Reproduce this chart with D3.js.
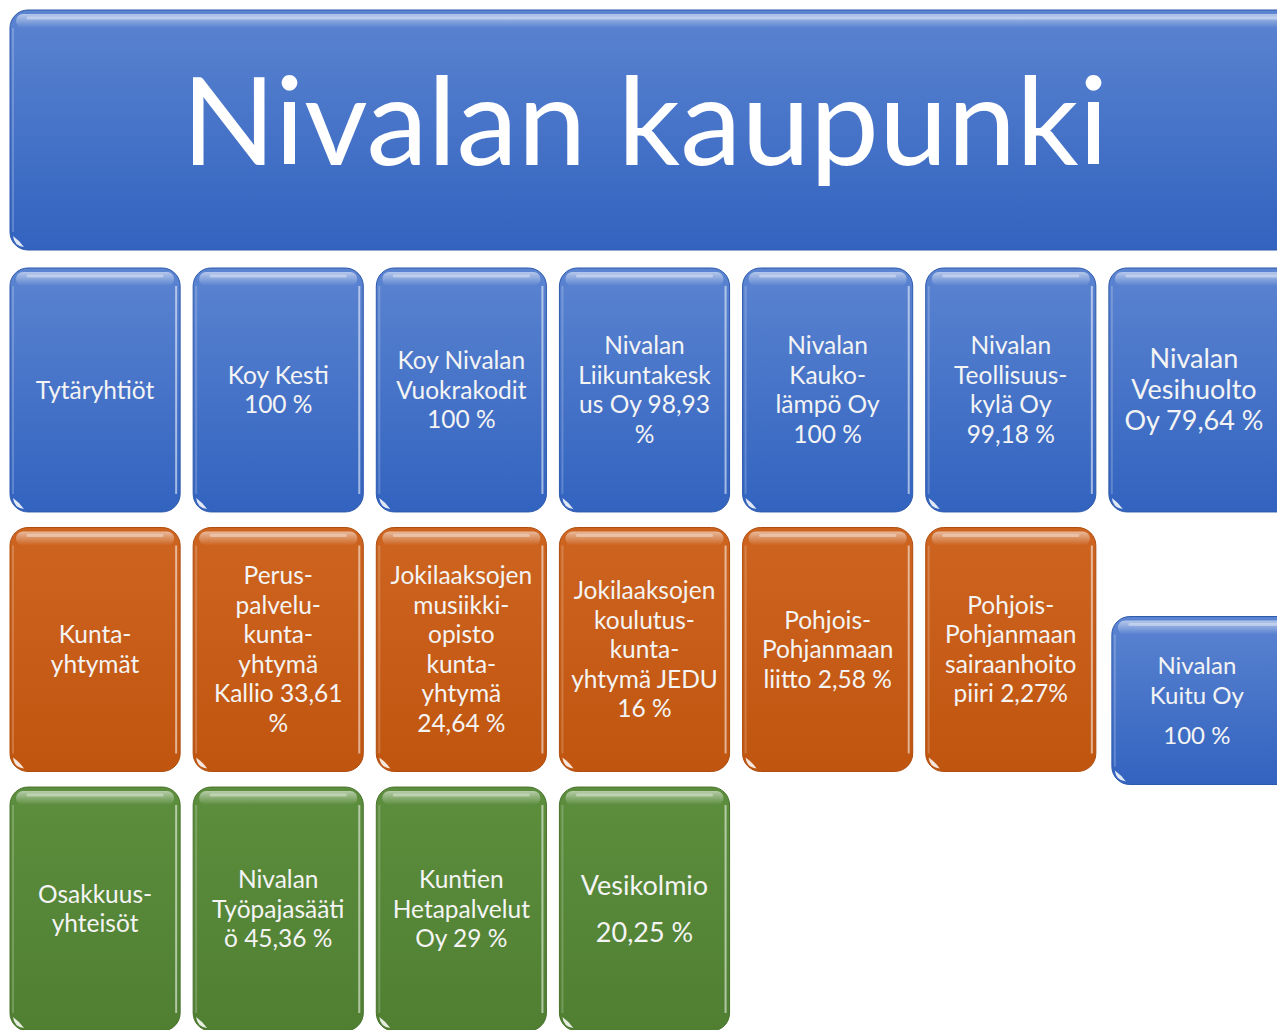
<!DOCTYPE html>
<html>
<head>
<meta charset="utf-8">
<script src="https://cdn.jsdelivr.net/npm/d3@7"></script>
<style>
	body { margin: 0; background: #ffffff; }
	svg { display: block; }
</style>
</head>
<body>
<svg id="chart" width="1277" height="1030"></svg>
<script>
// Chart content
const title = "Nivalan kaupunki";

const groups = ["Tytäryhtiöt", "Kuntayhtymät", "Osakkuusyhteisöt"];

const groupColors = {
	blue: ["#5b84d1", "#3263bf"],
	orange: ["#cd6420", "#c0550f"],
	green: ["#5c8e3d", "#507f32"],
};

// label lines per box, by row ("" is a small spacer)
const subsidiaries = [
	["Tytäryhtiöt"],
	["Koy Kesti", "100 %"],
	["Koy Nivalan", "Vuokrakodit", "100 %"],
	["Nivalan", "Liikuntakesk", "us Oy 98,93", "%"],
	["Nivalan", "Kauko-", "lämpö Oy", "100 %"],
	["Nivalan", "Teollisuus-", "kylä Oy", "99,18 %"],
	["Nivalan", "Vesihuolto", "Oy 79,64 %"],
];

const federations = [
	["Kunta-", "yhtymät"],
	["Perus-", "palvelu-", "kunta-", "yhtymä", "Kallio 33,61", "%"],
	["Jokilaaksojen", "musiikki-", "opisto", "kunta-", "yhtymä", "24,64 %"],
	["Jokilaaksojen", "koulutus-", "kunta-", "yhtymä JEDU", "16 %"],
	["Pohjois-", "Pohjanmaan", "liitto 2,58 %"],
	["Pohjois-", "Pohjanmaan", "sairaanhoito", "piiri  2,27%"],
];

const associates = [
	["Osakkuus-", "yhteisöt"],
	["Nivalan", "Työpajasääti", "ö 45,36 %"],
	["Kuntien", "Hetapalvelut", "Oy 29 %"],
	["Vesikolmio", "", "20,25 %"],
];

// extra subsidiary that sits beside the federations row
const extraBox = ["Nivalan", "Kuitu Oy", "", "100 %"];

const svg = d3.select("#chart");
const defs = svg.append("defs");

for (const key in groupColors) {
	const grad = defs
		.append("linearGradient")
		.attr("id", `grad-${key}`)
		.attr("x1", 0)
		.attr("y1", 0)
		.attr("x2", 0)
		.attr("y2", 1);
	grad.append("stop").attr("offset", "0%").attr("stop-color", groupColors[key][0]);
	grad.append("stop").attr("offset", "100%").attr("stop-color", groupColors[key][1]);
}

const shine = defs
	.append("linearGradient")
	.attr("id", "shine")
	.attr("x1", 0)
	.attr("y1", 0)
	.attr("x2", 0)
	.attr("y2", 1);
shine.append("stop").attr("offset", "0%").attr("stop-color", "#fff").attr("stop-opacity", 0.55);
shine.append("stop").attr("offset", "100%").attr("stop-color", "#fff").attr("stop-opacity", 0);

// Scales for the grid
const x = d3.scaleBand().domain(d3.range(7)).range([10, 1279]).paddingInner(0.071);
const y = d3.scaleBand().domain(d3.range(3)).range([268, 1031]).paddingInner(0.06);

const fontFamily = "Lato, 'Open Sans', sans-serif";

function drawBox(g, bx, by, bw, bh, color) {
	const r = Math.min(18, bw / 8);
	const base = d3.color(groupColors[color][1]);
	g.append("rect")
		.attr("x", bx)
		.attr("y", by)
		.attr("width", bw)
		.attr("height", bh)
		.attr("rx", r)
		.attr("fill", `url(#grad-${color})`)
		.attr("stroke", base.darker(0.3))
		.attr("stroke-width", 1);
	// top gloss band
	g.append("rect")
		.attr("x", bx + 6)
		.attr("y", by + 4)
		.attr("width", bw - 12)
		.attr("height", 14)
		.attr("rx", 7)
		.attr("fill", "url(#shine)");
	g.append("line")
		.attr("x1", bx + r)
		.attr("x2", bx + bw - r)
		.attr("y1", by + 8)
		.attr("y2", by + 8)
		.attr("stroke", "#fff")
		.attr("stroke-opacity", 0.35)
		.attr("stroke-width", 3)
		.attr("stroke-linecap", "round");
	// right edge highlight
	g.append("line")
		.attr("x1", bx + bw - 4)
		.attr("x2", bx + bw - 4)
		.attr("y1", by + r)
		.attr("y2", by + bh - r)
		.attr("stroke", "#fff")
		.attr("stroke-opacity", 0.55)
		.attr("stroke-width", 2);
	// left edge soft highlight
	g.append("line")
		.attr("x1", bx + 3)
		.attr("x2", bx + 3)
		.attr("y1", by + r)
		.attr("y2", by + bh - r)
		.attr("stroke", "#fff")
		.attr("stroke-opacity", 0.2)
		.attr("stroke-width", 2);
	// bottom-left corner glint
	g.append("path")
		.attr("d", `M${bx + 3},${by + bh - 14} Q${bx + 4},${by + bh - 4} ${bx + 14},${by + bh - 3} Q${bx + 10},${by + bh - 9} ${bx + 3},${by + bh - 14}Z`)
		.attr("fill", "#fff")
		.attr("fill-opacity", 0.85);
}

// spacer: fraction of a line that an empty entry takes
function drawLabel(g, cx, cy, lines, size, lineH, spacer = 0.5) {
	const text = g
		.append("text")
		.attr("text-anchor", "middle")
		.attr("font-family", fontFamily)
		.attr("font-size", size)
		.attr("fill", "#f4f4f4");
	// cumulative offsets, spacers add only part of a line
	const offsets = [];
	let pos = 0;
	lines.forEach((line, i) => {
		if (line === "") {
			pos += lineH * spacer;
			return;
		}
		if (offsets.length > 0) pos += lineH;
		offsets.push({ line, pos });
	});
	const total = pos;
	offsets.forEach((d) => {
		text.append("tspan")
			.attr("x", cx)
			.attr("y", cy + d.pos - total / 2 + size * 0.35)
			.text(d.line);
	});
}

// Title box
const titleG = svg.append("g");
drawBox(titleG, 10, 10, 1290, 240, "blue");
titleG
	.append("text")
	.attr("x", 645)
	.attr("y", 165)
	.attr("text-anchor", "middle")
	.attr("font-family", fontFamily)
	.attr("font-size", 123)
	.attr("fill", "#ffffff")
	.text(title);

const rows = [
	{ data: subsidiaries, color: "blue" },
	{ data: federations, color: "orange" },
	{ data: associates, color: "green" },
];

rows.forEach((row, ri) => {
	const g = svg.append("g").attr("class", `row-${ri}`);
	row.data.forEach((lines, ci) => {
		const bx = x(ci);
		const by = y(ri);
		const bw = ri === 0 && ci === 6 ? 190 : x.bandwidth();
		drawBox(g, bx, by, bw, y.bandwidth(), row.color);
		const big = (ri === 0 && ci === 6) || (ri === 2 && ci === 3);
		const cx = bx + x.bandwidth() / 2;
		drawLabel(g, cx, by + y.bandwidth() / 2, lines, big ? 27 : 24.5, big ? 31 : 29.5, 0.5);
	});
});

// Kuitu box: smaller, shifted down beside the federations
const kx = x(6) + 3;
const ky = y(1) + 89;
const kg = svg.append("g");
drawBox(kg, kx, ky, 190, 168, "blue");
drawLabel(kg, kx + 85, ky + 84, extraBox, 24, 30, 0.34);
</script>
</body>
</html>
